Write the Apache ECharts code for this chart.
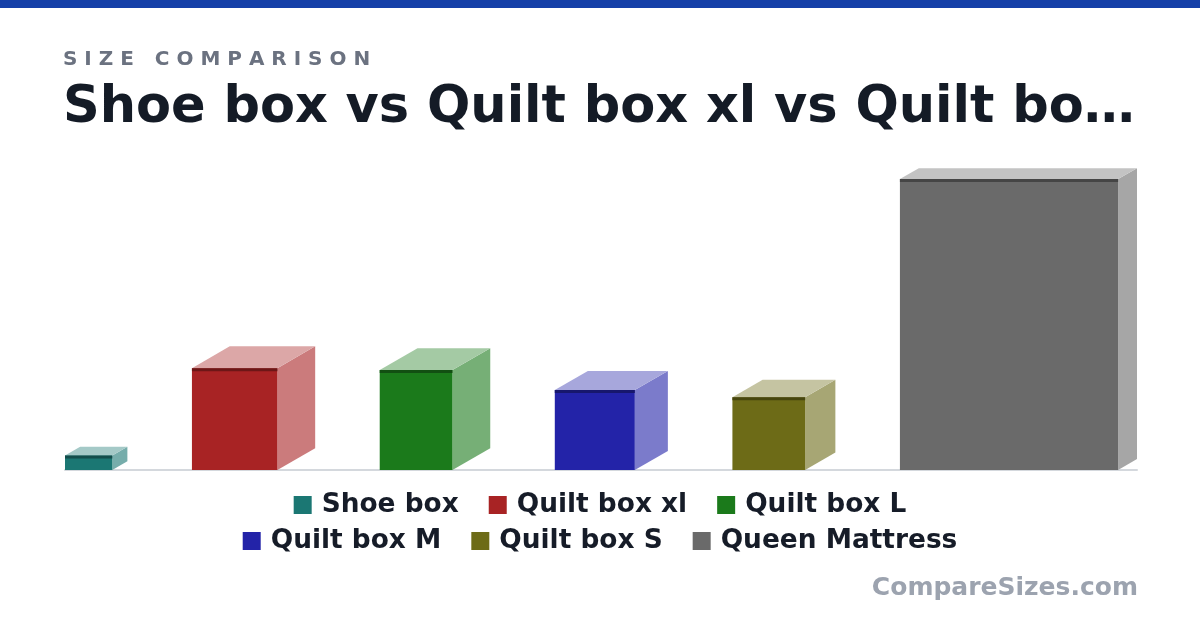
<!DOCTYPE html>
<html>
<head>
<meta charset="utf-8">
<title>Size comparison</title>
<script src="https://cdn.jsdelivr.net/npm/echarts@6/dist/echarts.min.js"></script>
<style>
  html, body { margin: 0; padding: 0; background: #ffffff; }
  #chart { width: 1200px; height: 630px; }
</style>
</head>
<body>
<div id="chart"></div>
<script>
// item names and sizes in inches (width x height x depth)
var names   = ['Shoe box', 'Quilt box xl', 'Quilt box L', 'Quilt box M', 'Quilt box S', 'Queen Mattress'];
var widths  = [13, 23.5, 20, 22, 20, 60];
var heights = [4, 28, 27.5, 22, 20, 80];
var depths  = [8, 20, 20, 17.5, 16, 10];
var colors  = ['#1b7773', '#a82324', '#1b7a1b', '#2323a8', '#6d6b17', '#6a6a6a'];

var titleText = 'Shoe box vs Quilt box xl vs Quilt box L vs Quilt box M vs Quilt box S vs Queen Mattress';
var font = 'DejaVu Sans';

// depth is drawn foreshortened, at 30 degrees
var depthScale = 0.6;
var angle = Math.PI / 6;
var gap = 17.75;

// lay the boxes out side by side
var starts = [];
var cursor = 0;
for (var i = 0; i < names.length; i++) {
  starts.push(cursor);
  cursor += widths[i] + depths[i] * depthScale * Math.cos(angle);
  if (i < names.length - 1) cursor += gap;
}
var total = cursor;
var gridW = 1072, gridH = 300;
var yMax = total * gridH / gridW;

function mix(hex, t) {
  // blend colour toward white (t>0) or black (t<0)
  var c = echarts.color.parse(hex);
  var r = c[0], g = c[1], b = c[2];
  if (t >= 0) {
    r = r + (255 - r) * t; g = g + (255 - g) * t; b = b + (255 - b) * t;
  } else {
    r = r * (1 + t); g = g * (1 + t); b = b * (1 + t);
  }
  return 'rgb(' + Math.round(r) + ',' + Math.round(g) + ',' + Math.round(b) + ')';
}

function renderBox(params, api) {
  var x0 = api.value(0), w = api.value(1), h = api.value(2), d = api.value(3);
  var bl = api.coord([x0, 0]);
  var tr = api.coord([x0 + w, h]);
  var off = api.size([d * depthScale * Math.cos(angle), d * depthScale * Math.sin(angle)]);
  var dx = off[0], dy = off[1];
  var col = api.visual('color');
  var left = bl[0], right = tr[0], top = tr[1], bottom = bl[1];
  return {
    type: 'group',
    children: [
      {
        type: 'polygon',
        shape: { points: [[right, top], [right + dx, top - dy], [right + dx, bottom - dy], [right, bottom]] },
        style: { fill: mix(col, 0.4) }
      },
      {
        type: 'polygon',
        shape: { points: [[left, top], [right, top], [right + dx, top - dy], [left + dx, top - dy]] },
        style: { fill: mix(col, 0.6) }
      },
      {
        type: 'rect',
        shape: { x: left, y: top, width: right - left, height: bottom - top },
        style: { fill: col }
      },
      {
        type: 'rect',
        shape: { x: left, y: top, width: right - left, height: 3 },
        style: { fill: mix(col, -0.35) }
      }
    ]
  };
}

var series = [];
for (var j = 0; j < names.length; j++) {
  series.push({
    name: names[j],
    type: 'custom',
    renderItem: renderBox,
    itemStyle: { color: colors[j] },
    encode: { x: [0, 1], y: 2 },
    data: [[starts[j], widths[j], heights[j], depths[j]]]
  });
}

var legendText = {
  fontFamily: font, fontSize: 26.4, fontWeight: 'bold', color: '#161c28',
  lineHeight: 30, padding: [0, 0, 0, 5]
};

var chart = echarts.init(document.getElementById('chart'), null, { renderer: 'canvas' });
chart.setOption({
  backgroundColor: '#ffffff',
  animation: false,
  color: colors,
  title: [
    {
      text: 'S I Z E   C O M P A R I S O N',
      left: 63, top: 48, padding: 0,
      textStyle: { fontFamily: font, fontSize: 20, fontWeight: 'bold', color: '#6b7280', lineHeight: 24 }
    },
    {
      text: titleText,
      left: 63, top: 79, padding: 0,
      textStyle: {
        fontFamily: font, fontSize: 51, fontWeight: 'bold', color: '#141b26', lineHeight: 60,
        width: 1092, overflow: 'truncate', ellipsis: '…'
      }
    },
    {
      text: 'CompareSizes.com',
      right: 62, top: 573, padding: 0,
      textStyle: { fontFamily: font, fontSize: 25, fontWeight: 'bold', color: '#9ca3af', lineHeight: 30 }
    }
  ],
  graphic: [
    { type: 'rect', left: 0, top: 0, shape: { width: 1200, height: 8 }, style: { fill: '#1540a8' } }
  ],
  legend: [
    {
      data: names.slice(0, 3), left: 'center', top: 490, padding: 0,
      icon: 'rect', itemWidth: 18, itemHeight: 18, itemGap: 30,
      selectedMode: false, textStyle: legendText
    },
    {
      data: names.slice(3), left: 'center', top: 526, padding: 0,
      icon: 'rect', itemWidth: 18, itemHeight: 18, itemGap: 30,
      selectedMode: false, textStyle: legendText
    }
  ],
  grid: { left: 65, width: gridW, top: 170, height: gridH },
  xAxis: {
    type: 'value', min: 0, max: total,
    axisLine: { show: true, lineStyle: { color: '#d4d8dd', width: 2 } },
    axisTick: { show: false }, axisLabel: { show: false }, splitLine: { show: false }
  },
  yAxis: {
    type: 'value', min: 0, max: yMax, show: false,
    splitLine: { show: false }
  },
  series: series
});
</script>
</body>
</html>
